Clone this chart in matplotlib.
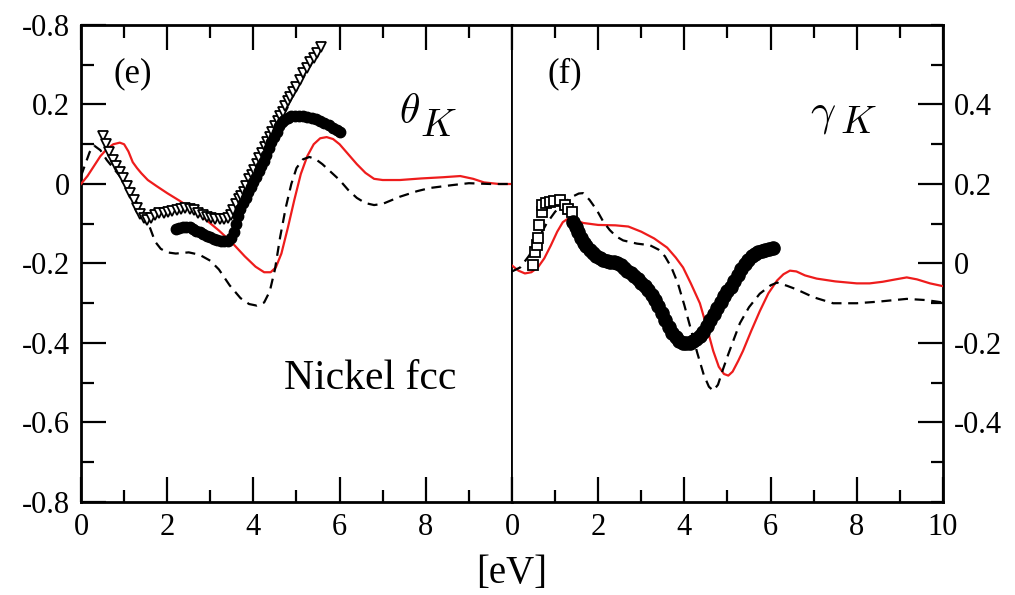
import matplotlib
matplotlib.use('Agg')
import matplotlib.pyplot as plt
from matplotlib.ticker import MultipleLocator

plt.rcParams['font.family'] = ['Liberation Serif', 'DejaVu Serif']
plt.rcParams['mathtext.fontset'] = 'cm'

# panel (e): theta_K
theta_red_x = [0, 0.15, 0.3, 0.45, 0.6, 0.75, 0.9, 1.0, 1.1, 1.2, 1.3, 1.4, 1.55, 1.75, 2.0, 2.3, 2.6,
               2.9, 3.2, 3.5, 3.8, 4.05, 4.25, 4.4, 4.52, 4.65, 4.8, 4.95, 5.1, 5.25, 5.4, 5.55, 5.7,
               5.85, 6.0, 6.2, 6.4, 6.6, 6.8, 7.0, 7.4, 7.9, 8.4, 8.8, 9.1, 9.35, 9.7, 10]
theta_red_y = [0.0, 0.02, 0.045, 0.07, 0.088, 0.1, 0.104, 0.1, 0.082, 0.055, 0.04, 0.027, 0.01, -0.005,
               -0.023, -0.043, -0.065, -0.09, -0.117, -0.147, -0.182, -0.208, -0.222, -0.222, -0.21,
               -0.175, -0.11, -0.04, 0.025, 0.07, 0.1, 0.115, 0.118, 0.113, 0.1, 0.075, 0.05, 0.028,
               0.013, 0.01, 0.01, 0.014, 0.017, 0.02, 0.013, 0.004, 0.0, 0.0]
theta_dash_x = [0, 0.1, 0.2, 0.3, 0.45, 0.6, 0.9, 1.2, 1.45, 1.6, 1.72, 1.85, 2.0, 2.2, 2.5, 2.75, 3.0,
                3.2, 3.45, 3.7, 3.9, 4.08, 4.25, 4.38, 4.5, 4.62, 4.75, 4.88, 5.0, 5.15, 5.3, 5.45, 5.6,
                5.8, 6.0, 6.2, 6.4, 6.6, 6.8, 7.0, 7.4, 7.8, 8.1, 8.6, 9.0, 9.5, 10]
theta_dash_y = [0.02, 0.05, 0.08, 0.097, 0.085, 0.06, 0.02, -0.03, -0.075, -0.11, -0.145, -0.163,
                -0.172, -0.175, -0.172, -0.178, -0.193, -0.215, -0.255, -0.287, -0.302, -0.306, -0.298,
                -0.27, -0.215, -0.134, -0.06, 0.0, 0.04, 0.062, 0.068, 0.062, 0.05, 0.03, 0.01, -0.015,
                -0.035, -0.048, -0.053, -0.05, -0.032, -0.018, -0.01, -0.003, 0.002, 0.0, 0.0]
theta_tri_x = [0.50, 0.58, 0.66, 0.74, 0.82, 0.90, 0.98, 1.06, 1.14, 1.22, 1.30, 1.38, 1.46, 1.53,
               1.62, 1.72, 1.82, 1.92, 2.02, 2.12, 2.22, 2.32, 2.42, 2.52, 2.62, 2.72, 2.82, 2.92,
               3.02, 3.12, 3.22, 3.32, 3.40, 3.47, 3.53, 3.60, 3.66, 3.72, 3.78, 3.84, 3.90, 3.96,
               4.02, 4.08, 4.14, 4.20, 4.26, 4.32, 4.38, 4.44, 4.50, 4.56, 4.62, 4.68, 4.74, 4.80,
               4.86, 4.93, 5.00, 5.08, 5.16, 5.24, 5.32, 5.40, 5.48, 5.56]
theta_tri_y = [0.12, 0.10, 0.08, 0.06, 0.045, 0.03, 0.015, -0.005, -0.023, -0.04, -0.06, -0.075, -0.085,
               -0.09, -0.085, -0.077, -0.073, -0.072, -0.070, -0.068, -0.065, -0.063, -0.061, -0.062,
               -0.066, -0.072, -0.077, -0.082, -0.085, -0.087, -0.088, -0.088, -0.086, -0.077, -0.066,
               -0.050, -0.038, -0.030, -0.020, -0.005, 0.012, 0.022, 0.035, 0.050, 0.065, 0.078, 0.092,
               0.105, 0.118, 0.130, 0.145, 0.158, 0.170, 0.182, 0.195, 0.208, 0.22, 0.232, 0.245, 0.262,
               0.278, 0.292, 0.306, 0.318, 0.330, 0.344]
theta_dot_x = [2.20, 2.28, 2.36, 2.44, 2.52, 2.60, 2.68, 2.76, 2.84, 2.92, 3.00, 3.08, 3.16, 3.24, 3.32,
               3.40, 3.48, 3.55, 3.60, 3.65, 3.70, 3.76, 3.82, 3.88, 3.94, 4.00, 4.06, 4.12, 4.18, 4.24,
               4.30, 4.36, 4.42, 4.48, 4.54, 4.60, 4.66, 4.72, 4.80, 4.88, 4.96, 5.05, 5.15, 5.25, 5.35,
               5.45, 5.55, 5.65, 5.75, 5.85, 5.95, 6.01]
theta_dot_y = [-0.112, -0.110, -0.109, -0.108, -0.109, -0.112, -0.117, -0.121, -0.125, -0.130, -0.134,
               -0.138, -0.141, -0.143, -0.144, -0.143, -0.137, -0.120, -0.100, -0.080, -0.064, -0.048,
               -0.035, -0.020, -0.008, 0.004, 0.018, 0.032, 0.045, 0.058, 0.074, 0.090, 0.105, 0.118,
               0.132, 0.145, 0.155, 0.162, 0.167, 0.170, 0.171, 0.171, 0.170, 0.169, 0.167, 0.163, 0.159,
               0.154, 0.148, 0.141, 0.135, 0.132]

# panel (f): gamma_K
gamma_red_x = [0, 0.15, 0.3, 0.45, 0.6, 0.75, 0.9, 1.05, 1.18, 1.3, 1.45, 1.65, 2.0, 2.4, 2.7, 3.0, 3.3,
               3.6, 3.8, 3.97, 4.15, 4.36, 4.52, 4.67, 4.8, 4.92, 5.02, 5.12, 5.25, 5.36, 5.55, 5.75,
               5.95, 6.15, 6.3, 6.45, 6.6, 6.8, 7.07, 7.5, 8.0, 8.3, 8.6, 8.9, 9.16, 9.4, 9.7, 10]
gamma_red_y = [-0.005, -0.018, -0.025, -0.022, -0.01, 0.013, 0.045, 0.08, 0.104, 0.113, 0.11, 0.102,
               0.097, 0.096, 0.093, 0.08, 0.063, 0.04, 0.015, -0.01, -0.05, -0.1, -0.16, -0.22, -0.26,
               -0.278, -0.282, -0.272, -0.245, -0.22, -0.17, -0.12, -0.075, -0.043, -0.027, -0.018,
               -0.02, -0.03, -0.038, -0.045, -0.05, -0.05, -0.046, -0.04, -0.035, -0.04, -0.05, -0.057]
gamma_dash_x = [0, 0.19, 0.4, 0.6, 0.8, 1.0, 1.2, 1.4, 1.55, 1.65, 1.8, 1.97, 2.12, 2.27, 2.42, 2.58,
                2.9, 3.2, 3.4, 3.55, 3.7, 3.85, 4.0, 4.15, 4.3, 4.45, 4.57, 4.67, 4.78, 4.9, 5.02, 5.15,
                5.29, 5.5, 5.75, 6.0, 6.15, 6.38, 6.6, 7.0, 7.45, 8.0, 8.5, 9.16, 9.6, 10]
gamma_dash_y = [-0.02, -0.01, 0.02, 0.06, 0.10, 0.13, 0.152, 0.168, 0.176, 0.177, 0.16, 0.134, 0.105,
                0.084, 0.068, 0.058, 0.05, 0.046, 0.035, 0.018, -0.01, -0.05, -0.105, -0.165, -0.225,
                -0.28, -0.31, -0.32, -0.305, -0.265, -0.228, -0.19, -0.15, -0.11, -0.076, -0.055, -0.048,
                -0.056, -0.065, -0.085, -0.1, -0.1, -0.096, -0.089, -0.092, -0.098]
gamma_sq_x = [0.49, 0.53, 0.58, 0.60, 0.63, 0.69, 0.70, 0.80, 0.88, 0.98, 1.11, 1.23, 1.31, 1.39]
gamma_sq_y = [-0.005, 0.028, 0.046, 0.063, 0.096, 0.129, 0.147, 0.152, 0.154, 0.156, 0.16, 0.147,
              0.138, 0.129]
gamma_dot_x = [1.42, 1.48, 1.54, 1.60, 1.66, 1.72, 1.80, 1.88, 1.96, 2.04, 2.12, 2.20, 2.28, 2.36, 2.44,
               2.52, 2.60, 2.68, 2.76, 2.84, 2.92, 3.00, 3.08, 3.16, 3.24, 3.32, 3.40, 3.48, 3.56, 3.64,
               3.72, 3.80, 3.88, 3.96, 4.04, 4.12, 4.20, 4.28, 4.36, 4.44, 4.52, 4.60, 4.68, 4.76, 4.84,
               4.92, 5.00, 5.08, 5.16, 5.24, 5.32, 5.40, 5.48, 5.56, 5.64, 5.72, 5.80, 5.88, 5.96, 6.06]
gamma_dot_y = [0.105, 0.092, 0.078, 0.064, 0.052, 0.043, 0.034, 0.026, 0.019, 0.014, 0.010, 0.007,
               0.005, 0.003, 0.0, -0.005, -0.012, -0.019, -0.025, -0.032, -0.040, -0.048, -0.057,
               -0.066, -0.078, -0.092, -0.108, -0.125, -0.143, -0.160, -0.175, -0.186, -0.194, -0.199,
               -0.201, -0.200, -0.196, -0.190, -0.182, -0.172, -0.158, -0.142, -0.127, -0.112, -0.097,
               -0.083, -0.070, -0.058, -0.045, -0.030, -0.015, -0.002, 0.010, 0.018, 0.024, 0.028,
               0.031, 0.034, 0.037, 0.040]

left_ticks = [-0.8, -0.6, -0.4, -0.2, 0, 0.2, 0.4]
left_labels = ['-0.8', '-0.6', '-0.4', '-0.2', '0', '0.2', '-0.8']
right_ticks = [-0.4, -0.2, 0, 0.2, 0.4]
right_labels = ['-0.4', '-0.2', '0', '0.2', '0.4']
x_ticks = [0, 2, 4, 6, 8, 10]

fig = plt.figure(figsize=(10.15, 5.95), dpi=100)
ax1 = fig.add_axes([0.0798, 0.1563, 0.4246, 0.8017])
ax2 = fig.add_axes([0.5044, 0.1563, 0.4246, 0.8017])

dash = (0, (4.5, 3))

ax1.plot(theta_red_x, theta_red_y, color='#ee1c1c', lw=1.6, zorder=3)
ax1.plot(theta_dash_x, theta_dash_y, color='black', lw=1.6, ls=dash, zorder=3)
ax1.plot(theta_tri_x, theta_tri_y, ls='none', marker='v', ms=7, mfc='white', mec='black', mew=1.3, zorder=4)
ax1.plot(theta_dot_x, theta_dot_y, ls='none', marker='o', ms=7.5, color='black', zorder=5)

ax2.plot(gamma_red_x, gamma_red_y, color='#ee1c1c', lw=1.6, zorder=3)
ax2.plot(gamma_dash_x, gamma_dash_y, color='black', lw=1.6, ls=dash, zorder=3)
ax2.plot(gamma_sq_x, gamma_sq_y, ls='none', marker='s', ms=6.5, mfc='white', mec='black', mew=1.3, zorder=4)
ax2.plot(gamma_dot_x, gamma_dot_y, ls='none', marker='o', ms=9.5, color='black', zorder=5)

for ax in (ax1, ax2):
    ax.set_xlim(0, 10)
    ax.xaxis.set_minor_locator(MultipleLocator(1))
    ax.yaxis.set_minor_locator(MultipleLocator(0.1))
    for s in ax.spines.values():
        s.set_linewidth(2.0)
    ax.tick_params(which='major', direction='in', length=18, width=1.6, labelsize=22, pad=8)
    ax.tick_params(which='minor', direction='in', length=9, width=1.6)
ax1.spines['right'].set_linewidth(1.3)
ax2.spines['left'].set_linewidth(1.3)

ax1.set_ylim(-0.8, 0.4)
ax1.set_xticks(x_ticks)
ax1.set_xticklabels(['0', '2', '4', '6', '8', ''])
ax1.set_yticks(left_ticks)
ax1.set_yticklabels(left_labels)
ax1.tick_params(which='both', top=True, bottom=True, left=True, right=False)

ax2.set_ylim(-0.6, 0.6)
ax2.set_xticks(x_ticks)
ax2.set_xticklabels(['0', '2', '4', '6', '8', '10'])
ax2.set_yticks(right_ticks)
ax2.set_yticklabels(right_labels)
ax2.tick_params(which='both', top=True, bottom=True, left=False, right=True,
                labelleft=False, labelright=True)

ax1.text(1.2, 0.276, '(e)', fontsize=25, ha='center', va='center')
ax1.text(7.63, 0.18, r'$\theta$', fontsize=30, ha='center', va='center')
ax1.text(8.3, 0.145, r'$K$', fontsize=28, ha='center', va='center')
ax1.text(6.7, -0.49, 'Nickel fcc', fontsize=30, ha='center', va='center')
ax2.text(1.23, 0.476, '(f)', fontsize=25, ha='center', va='center')
ax2.text(7.22, 0.372, r'$\gamma$', fontsize=32, ha='center', va='center')
ax2.text(8.03, 0.352, r'$K$', fontsize=28, ha='center', va='center')

fig.text(0.504, 0.036, '[eV]', fontsize=28, ha='center', va='center')

fig.savefig('out.png', dpi=100)
